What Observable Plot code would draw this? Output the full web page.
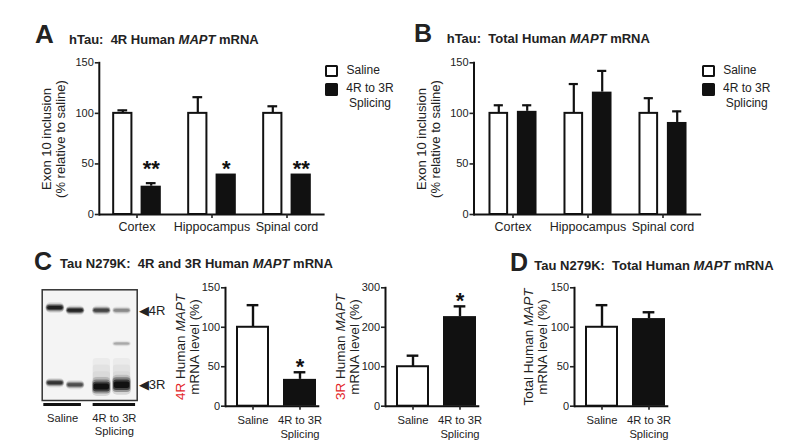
<!DOCTYPE html>
<html><head><meta charset="utf-8">
<script src="https://cdn.jsdelivr.net/npm/d3@7"></script>
<script src="https://cdn.jsdelivr.net/npm/@observablehq/plot@0.6"></script>
<style>
body{margin:0;background:#fff;}
#root{position:relative;width:800px;height:447px;overflow:hidden;font-family:"Liberation Sans",Arial,sans-serif;color:#222;background:#fff;}
.abs{position:absolute;white-space:nowrap;}
.letter{font-weight:bold;}
.title{font-weight:bold;}
.ylab{text-align:center;transform:rotate(-90deg);}
.red{color:#e3262a;}
.sw{position:absolute;box-sizing:border-box;width:13px;height:12px;border:2.5px solid #111;border-radius:1.5px;}
.leg{font-size:12px;line-height:15px;text-align:center;}
svg{position:absolute;overflow:visible;}
</style></head>
<body><div id="root"></div>
<script>
// ---------- data ----------
const regions = ["Cortex", "Hippocampus", "Spinal cord"];
const treatments = ["Saline", "4R to 3R\nSplicing"];
const legendLabels = ["Saline", "4R to 3R<br>Splicing"];

// Panel A: hTau 4R human MAPT mRNA (exon 10 inclusion, % of saline)
const aSaline = [100, 100, 100];
const aSalineErr = [103, 116, 107];
const aSplice = [28, 40, 40];
const aSpliceErr = [31, 40, 40];
const aSig = ["**", "*", "**"];
const aSigY = [50, 50, 50];

// Panel B: hTau total human MAPT mRNA
const bSaline = [100, 100, 100];
const bSalineErr = [108, 129, 115];
const bSplice = [102, 121, 91];
const bSpliceErr = [108, 142, 102];

// Panel C: Tau N279K 4R and 3R
const c4rValues = [100, 34];
const c4rErrs = [128, 43];
const c4rSig = ["", "*"];
const c4rSigY = [null, 56];
const c3rValues = [100, 227];
const c3rErrs = [128, 253];
const c3rSig = ["", "*"];
const c3rSigY = [null, 280];

// Panel D: Tau N279K total
const dValues = [100, 111];
const dErrs = [128, 119];

const ticks150 = [0, 50, 100, 150];
const ticks300 = [0, 100, 200, 300];

// Gel (panel C) band intensities
const gelLanes = [0.65, 1.65, 2.95, 3.95];
const gel4RPos = [0.165, 0.19, 0.19, 0.19];
const gel4RInt = [0.85, 0.8, 0.6, 0.3];
const gel4RThick = [0.05, 0.045, 0.045, 0.04];
const gel3RPos = [0.845, 0.862, 0.878, 0.862];
const gel3RInt = [0.7, 0.55, 1.0, 1.0];
const gel3RThick = [0.045, 0.045, 0.09, 0.095];
const gelFaintPos = [null, null, null, 0.49];
const gelFaintInt = [0, 0, 0, 0.2];
const gelSmearInt = [0, 0, 0.035, 0.035];
const gelMarkerLabels = ["◀4R", "◀3R"];
const gelMarkerPos = [0.19, 0.858];
const gelGroupLabels = ["Saline", "4R to 3R\nSplicing"];
const gelGroupFrom = [0.08, 2.52];
const gelGroupTo = [1.94, 4.62];

// ---------- helpers ----------
const root = document.getElementById("root");
const FONT = "Liberation Sans, Arial, sans-serif";
function place(node, left, top) {
  node.style.left = left + "px"; node.style.top = top + "px";
  root.appendChild(node);
}
function addText(html, cls, left, baseline, fs) {
  const d = document.createElement("div");
  d.className = "abs " + cls;
  d.style.fontSize = fs + "px"; d.style.lineHeight = fs + "px";
  d.innerHTML = html;
  place(d, left, baseline - 0.8465 * fs);
}
function addYLabel(lines, cx, cy, fs, lh) {
  const d = document.createElement("div");
  d.className = "abs ylab";
  const w = 240, h = lines.length * lh;
  d.style.width = w + "px"; d.style.height = h + "px";
  d.style.fontSize = fs + "px"; d.style.lineHeight = lh + "px";
  d.innerHTML = lines.join("<br>");
  place(d, cx - w / 2, cy - h / 2);
}
function addLegend(left, top) {
  const s1 = document.createElement("div"); s1.className = "sw"; s1.style.background = "#fff";
  place(s1, left, top);
  const s2 = document.createElement("div"); s2.className = "sw"; s2.style.background = "#111"; s2.style.height = "13px";
  place(s2, left, top + 17.5);
  const t1 = document.createElement("div"); t1.className = "abs leg"; t1.innerHTML = legendLabels[0];
  place(t1, left + 21.5, top - 2);
  const t2 = document.createElement("div"); t2.className = "abs leg"; t2.style.width = "48px"; t2.innerHTML = legendLabels[1];
  place(t2, left + 21, top + 15.5);
}
const baseStyle = {fontFamily: FONT, fontSize: "10px", color: "#222", background: "transparent", overflow: "visible"};

function groupedPanel(o) {
  const rows = regions.map((r, i) => ({
    region: r, saline: o.saline[i], salineErr: o.salineErr[i],
    splice: o.splice[i], spliceErr: o.spliceErr[i],
    sig: o.sig ? o.sig[i] : "", sigY: o.sigY ? o.sigY[i] : null
  }));
  const S = (o.width - o.marginLeft - o.marginRight) / regions.length;
  const half = S / 2, off = 14.2, bw = 20.5, cap = 10;
  const plot = Plot.plot({
    width: o.width, height: o.height,
    marginLeft: o.marginLeft, marginRight: o.marginRight, marginTop: o.marginTop, marginBottom: o.marginBottom,
    style: baseStyle,
    x: {domain: regions, padding: 0, label: null},
    y: {domain: [0, 150], label: null},
    marks: [
      Plot.barY(rows, {x: "region", y1: 0, y2: "saline", fill: "#fff", stroke: "#111", strokeWidth: 2,
        insetLeft: half - bw / 2 + 1, insetRight: half - bw / 2 + 1, dx: -off}),
      Plot.barY(rows, {x: "region", y1: 0, y2: "splice", fill: "#111",
        insetLeft: half - bw / 2, insetRight: half - bw / 2, dx: off}),
      Plot.ruleX(rows, {x: "region", y1: "saline", y2: "salineErr", stroke: "#111", strokeWidth: 2.2, dx: -off}),
      Plot.tickY(rows, {x: "region", y: "salineErr", stroke: "#111", strokeWidth: 2.2, dx: -off,
        insetLeft: half - cap / 2, insetRight: half - cap / 2}),
      Plot.ruleX(rows.filter(d => d.spliceErr > d.splice), {x: "region", y1: "splice", y2: "spliceErr", stroke: "#111", strokeWidth: 2.2, dx: off}),
      Plot.tickY(rows.filter(d => d.spliceErr > d.splice), {x: "region", y: "spliceErr", stroke: "#111", strokeWidth: 2.2, dx: off,
        insetLeft: half - cap / 2, insetRight: half - cap / 2}),
      Plot.text(rows.filter(d => d.sig), {x: "region", y: "sigY", text: "sig", dx: off, dy: 5, fontSize: 22, fontWeight: 600, fill: "#111"}),
      Plot.ruleY([0], {stroke: "#111", strokeWidth: 2}),
      Plot.frame({anchor: "left", stroke: "#111", strokeWidth: 2}),
      Plot.axisY({ticks: ticks150, tickSize: 4, tickPadding: 1.5, fontSize: 11, strokeWidth: 1.6, label: null}),
      Plot.axisX({tickSize: 4, tickPadding: 3.5, fontSize: 12.5, strokeWidth: 1.6, label: null})
    ]
  });
  place(plot, o.left, o.top);
}

function simplePanel(o) {
  const rows = treatments.map((t, i) => ({
    t, value: o.values[i], err: o.errs[i],
    sig: o.sig ? o.sig[i] : "", sigY: o.sigY ? o.sigY[i] : null
  }));
  const bw = 33.3, cap = 12;
  const plot = Plot.plot({
    width: 180, height: 167,
    marginLeft: 75, marginRight: 10.7, marginTop: 7.3, marginBottom: 41.3,
    style: baseStyle,
    x: {domain: treatments, paddingInner: 0.3, paddingOuter: 0.14, align: 0.75, label: null},
    y: {domain: [0, o.yMax], label: null},
    marks: [
      Plot.barY(rows.slice(0, 1), {x: "t", y1: 0, y2: "value", fill: "#fff", stroke: "#111", strokeWidth: 2, insetLeft: 1, insetRight: 1}),
      Plot.barY(rows.slice(1), {x: "t", y1: 0, y2: "value", fill: "#111"}),
      Plot.ruleX(rows, {x: "t", y1: "value", y2: "err", stroke: "#111", strokeWidth: 2.4}),
      Plot.tickY(rows, {x: "t", y: "err", stroke: "#111", strokeWidth: 2.4, insetLeft: (bw - cap) / 2, insetRight: (bw - cap) / 2}),
      Plot.text(rows.filter(d => d.sig), {x: "t", y: "sigY", text: "sig", dy: 5, fontSize: 22, fontWeight: 600, fill: "#111"}),
      Plot.ruleY([0], {stroke: "#111", strokeWidth: 2}),
      Plot.frame({anchor: "left", stroke: "#111", strokeWidth: 2}),
      Plot.axisY({ticks: o.ticks, tickSize: 4, tickPadding: 1.5, fontSize: 11, strokeWidth: 1.6, label: null}),
      Plot.axisX({tickSize: 4, tickPadding: 4.5, fontSize: 11.2, lineHeight: 1.22, strokeWidth: 1.6, label: null})
    ]
  });
  place(plot, o.left, o.top);
}

function gelPanel() {
  const bands = [];
  gelLanes.forEach((lane, i) => {
    bands.push({lane, pos: gel4RPos[i], thick: gel4RThick[i], int: gel4RInt[i]});
    bands.push({lane, pos: gel3RPos[i], thick: gel3RThick[i], int: gel3RInt[i]});
    if (gelFaintPos[i] != null) bands.push({lane, pos: gelFaintPos[i], thick: 0.03, int: gelFaintInt[i]});
  });
  const smear = gelLanes.map((lane, i) => ({lane, int: gelSmearInt[i]})).filter(d => d.int > 0);
  const markers = gelMarkerLabels.map((label, i) => ({label, pos: gelMarkerPos[i]}));
  const groups = gelGroupLabels.map((label, i) => ({label, from: gelGroupFrom[i], to: gelGroupTo[i]}));
  // layered halos to mimic diffuse bands
  const layers = [
    {w: 0.47, t: 1.9, a: 0.12, rx: 5},
    {w: 0.45, t: 1.4, a: 0.3, rx: 4},
    {w: 0.42, t: 1.0, a: 0.55, rx: 3},
    {w: 0.38, t: 0.6, a: 0.75, rx: 2}
  ];
  const smearSteps = [0.62, 0.68, 0.74, 0.79];
  const plot = Plot.plot({
    width: 130, height: 167,
    marginLeft: 11.7, marginRight: 23.3, marginTop: 9.3, marginBottom: 47,
    style: baseStyle,
    x: {domain: [0, 4.7], axis: null},
    y: {domain: [0, 1], reverse: true, axis: null},
    marks: [
      Plot.frame({fill: "#f4f4f4"}),
      ...smearSteps.map(s => Plot.rect(smear, {x1: d => d.lane - 0.43, x2: d => d.lane + 0.43, y1: s, y2: 0.83, fill: "#000", fillOpacity: d => d.int, rx: 3})),
      ...layers.map(L => Plot.rect(bands, {
        x1: d => d.lane - L.w, x2: d => d.lane + L.w,
        y1: d => d.pos - d.thick * L.t / 2, y2: d => d.pos + d.thick * L.t / 2,
        fill: "#000", fillOpacity: d => d.int * L.a, rx: L.rx, imageFilter: "blur(0.7px)"})),
      Plot.frame({stroke: "#333", strokeWidth: 1.5}),
      Plot.text(markers, {y: "pos", text: "label", frameAnchor: "right", textAnchor: "start", dx: 1.5, fontSize: 13, fill: "#222"}),
      Plot.ruleY(groups, {y: 1, x1: "from", x2: "to", dy: 4, stroke: "#111", strokeWidth: 3}),
      Plot.text(groups, {x: d => (d.from + d.to) / 2, y: 1, text: "label", lineAnchor: "top", dy: 12, fontSize: 11.2, lineHeight: 1.2, fill: "#222"})
    ]
  });
  place(plot, 30, 280);
}

// ---------- panels ----------
groupedPanel({saline: aSaline, salineErr: aSalineErr, splice: aSplice, spliceErr: aSpliceErr, sig: aSig, sigY: aSigY,
  left: 0, top: 0, width: 330, height: 240, marginLeft: 98.8, marginRight: 5.4, marginTop: 62.3, marginBottom: 26});
groupedPanel({saline: bSaline, salineErr: bSalineErr, splice: bSplice, spliceErr: bSpliceErr,
  left: 400, top: 0, width: 310, height: 240, marginLeft: 73.5, marginRight: 8.9, marginTop: 62.3, marginBottom: 26});
gelPanel();
simplePanel({values: c4rValues, errs: c4rErrs, sig: c4rSig, sigY: c4rSigY, yMax: 150, ticks: ticks150, left: 150, top: 280});
simplePanel({values: c3rValues, errs: c3rErrs, sig: c3rSig, sigY: c3rSigY, yMax: 300, ticks: ticks300, left: 310, top: 280});
simplePanel({values: dValues, errs: dErrs, yMax: 150, ticks: ticks150, left: 499.3, top: 280});

// ---------- text ----------
addText("A", "letter", 35, 43.3, 26);
addText("hTau:&nbsp; 4R Human <i>MAPT</i> mRNA", "title", 69, 44, 13);
addText("B", "letter", 414, 42, 25);
addText("hTau:&nbsp; Total Human <i>MAPT</i> mRNA", "title", 446.7, 43.5, 13);
addText("C", "letter", 34, 270, 25);
addText("Tau N279K:&nbsp; 4R and 3R Human <i>MAPT</i> mRNA", "title", 60, 268.5, 13);
addText("D", "letter", 510, 271.5, 25);
addText("Tau N279K:&nbsp; Total Human <i>MAPT</i> mRNA", "title", 534.3, 270, 13);

addYLabel(["Exon 10 inclusion", "(% relative to saline)"], 53.7, 139, 13, 14);
addYLabel(["Exon 10 inclusion", "(% relative to saline)"], 428.5, 139, 13, 14);
addYLabel(['<span class="red">4R</span> Human <i>MAPT</i>', "mRNA level (%)"], 188.3, 346.5, 13.5, 14);
addYLabel(['<span class="red">3R</span> Human <i>MAPT</i>', "mRNA level (%)"], 348.3, 346.5, 13.5, 14);
addYLabel(["Total Human <i>MAPT</i>", "mRNA level (%)"], 535.8, 346.5, 13.5, 14);

addLegend(325, 65);
addLegend(701.7, 65);
</script></body></html>
